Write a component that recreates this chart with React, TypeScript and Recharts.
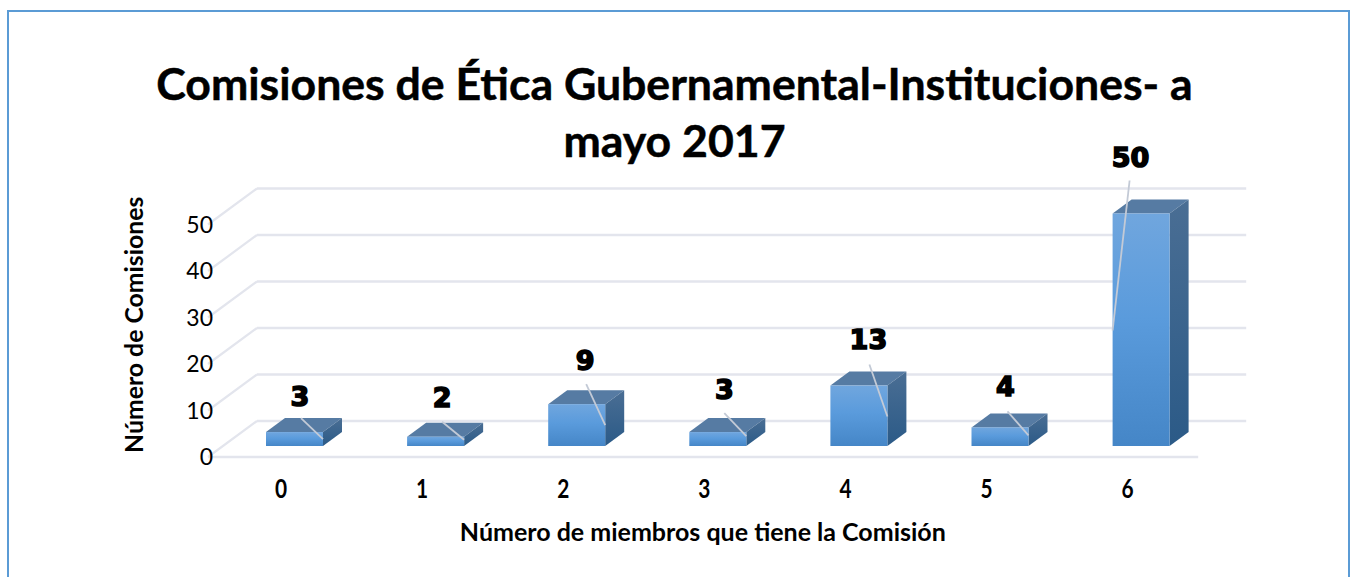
import { BarChart, Bar, XAxis, YAxis, CartesianGrid, LabelList, Label } from 'recharts';

const MEMBERS = ['0', '1', '2', '3', '4', '5', '6'];
const COMMISSIONS = [3, 2, 9, 3, 13, 4, 50];
const Y_TICKS = [0, 10, 20, 30, 40, 50];
const TITLE_LINES = ['Comisiones de Ética Gubernamental-Instituciones- a', 'mayo 2017'];

const chartData = MEMBERS.map((m, i) => ({ members: m, count: COMMISSIONS[i] }));

// 3d look
const DEPTH_X = 19;
const DEPTH_Y = 14;
const WALL_Y = 36;
const FLOOR_DROP = 11;
const FONT = 'Lato, "Open Sans", sans-serif';

// label placement per bar: label centre from bar left / top, leader start and end from bar left / top
const LABEL_SPOTS = [
  { dx: 34, dy: -36, x1: 35, y1: -14, x2: 57, y2: 7 },
  { dx: 35, dy: -40, x1: 35, y1: -15, x2: 57, y2: 3 },
  { dx: 37, dy: -44, x1: 38, y1: -20, x2: 57, y2: 21 },
  { dx: 35, dy: -43, x1: 35, y1: -19, x2: 57, y2: 4 },
  { dx: 38, dy: -47, x1: 39, y1: -21, x2: 57, y2: 31 },
  { dx: 34, dy: -41, x1: 36, y1: -16, x2: 57, y2: 8 },
  { dx: 18, dy: -57, x1: 17, y1: -33, x2: 0, y2: 117 },
];

function Bar3D({ x, y, width, height }: any) {
  const right = x + width;
  const bottom = y + height;
  return (
    <g>
      <polygon
        points={`${x},${y} ${x + DEPTH_X},${y - DEPTH_Y} ${right + DEPTH_X},${y - DEPTH_Y} ${right},${y}`}
        fill="#567ba3"
      />
      <polygon
        points={`${right},${y} ${right + DEPTH_X},${y - DEPTH_Y} ${right + DEPTH_X},${bottom - DEPTH_Y} ${right},${bottom}`}
        fill="url(#sideFill)"
      />
      <rect x={x} y={y} width={width} height={height} fill="url(#frontFill)" />
    </g>
  );
}

function GridLine({ x1, x2, y1, index }: any) {
  return (
    <g key={`grid-${index}`}>
      <line x1={x1 + 33} x2={x2 + 34.5} y1={y1 - 25} y2={y1 - 25} stroke="#e3e5ed" strokeWidth={2.6} />
      <line x1={x1 - 16} x2={x1 + 33} y1={y1 - 25 + WALL_Y} y2={y1 - 25} stroke="#e3e5ed" strokeWidth={2.2} />
      {y1 > 440 ? (
        <line x1={x1 - 16} x2={x2 - 13.5} y1={y1 + FLOOR_DROP} y2={y1 + FLOOR_DROP} stroke="#e3e5ed" strokeWidth={2.6} />
      ) : null}
    </g>
  );
}

function BarLabel({ x, y, value, index }: any) {
  const spot = LABEL_SPOTS[index];
  return (
    <g>
      <line x1={x + spot.x1} y1={y + spot.y1} x2={x + spot.x2} y2={y + spot.y2} stroke="#c3cad6" strokeWidth={1.8} />
      <text
        x={x + spot.dx}
        y={y + spot.dy}
        dy={10}
        textAnchor="middle"
        fontFamily='"DejaVu Sans", sans-serif'
        fontWeight={700}
        fontSize={27}
        fill="#000"
        stroke="#000"
        strokeWidth={1.6}
      >
        {value}
      </text>
    </g>
  );
}

function YTick({ x, y, payload }: any) {
  return (
    <text x={x} y={y + FLOOR_DROP} dy={8} textAnchor="end" fontFamily={FONT} fontSize={23} fill="#000">
      {payload.value}
    </text>
  );
}

function XTick({ x, y, payload }: any) {
  return (
    <text
      transform={`translate(${x - 13.5},${y + 11}) scale(0.95,1.2)`}
      textAnchor="middle"
      fontFamily={FONT}
      fontWeight={700}
      fontSize={22}
      fill="#000"
    >
      {payload.value}
    </text>
  );
}

export default function App() {
  return (
    <div style={{ position: 'absolute', left: 0, top: 0, width: 1355, height: 577, overflow: 'hidden', background: '#fff' }}>
      <div
        style={{
          position: 'absolute',
          left: 7,
          top: 10,
          width: 1339,
          height: 580,
          borderLeft: '2px solid #5b9bd5',
          borderTop: '2px solid #5b9bd5',
          borderRight: '2px solid #5b9bd5',
        }}
      />
      <div
        style={{
          position: 'absolute',
          left: 0,
          top: 54,
          width: 1349,
          textAlign: 'center',
          fontFamily: FONT,
          fontWeight: 700,
          fontSize: 44.6,
          lineHeight: '57px',
          color: '#000',
          WebkitTextStroke: '0.5px #000',
        }}
      >
        {TITLE_LINES.map((line) => (
          <div key={line}>{line}</div>
        ))}
      </div>
      <div style={{ position: 'absolute', left: 0, top: 0 }}>
        <BarChart width={1355} height={577} data={chartData} margin={{ top: 213.5, right: 143.3, bottom: 0, left: 164 }}>
          <defs>
            <linearGradient id="frontFill" x1="0" y1="0" x2="0" y2="1">
              <stop offset="0%" stopColor="#70a6de" />
              <stop offset="45%" stopColor="#5a9bdc" />
              <stop offset="100%" stopColor="#4586c7" />
            </linearGradient>
            <linearGradient id="sideFill" x1="0" y1="0" x2="0" y2="1">
              <stop offset="0%" stopColor="#4a6e94" />
              <stop offset="100%" stopColor="#2b5a87" />
            </linearGradient>
          </defs>
          <CartesianGrid horizontal={(props: any) => <GridLine {...props} />} vertical={false} />
          <XAxis dataKey="members" axisLine={false} tickLine={false} tick={<XTick />} tickMargin={35} height={131}>
            <Label
              value="Número de miembros que tiene la Comisión"
              position="insideTop"
              dy={72}
              dx={-15}
              style={{ fontFamily: FONT, fontWeight: 700, fontSize: 25, fill: '#000' }}
            />
          </XAxis>
          <YAxis
            domain={[0, 50]}
            ticks={Y_TICKS}
            interval={0}
            axisLine={false}
            tickLine={false}
            tick={<YTick />}
            width={60}
            tickMargin={5}
          >
            <Label
              value="Número de Comisiones"
              angle={-90}
              position="insideLeft"
              dx={-35}
              dy={-5}
              style={{ fontFamily: FONT, fontWeight: 700, fontSize: 24.8, fill: '#000', textAnchor: 'middle' }}
            />
          </YAxis>
          <Bar dataKey="count" barSize={57} shape={<Bar3D />} isAnimationActive={false}>
            <LabelList dataKey="count" content={<BarLabel />} />
          </Bar>
        </BarChart>
      </div>
    </div>
  );
}
